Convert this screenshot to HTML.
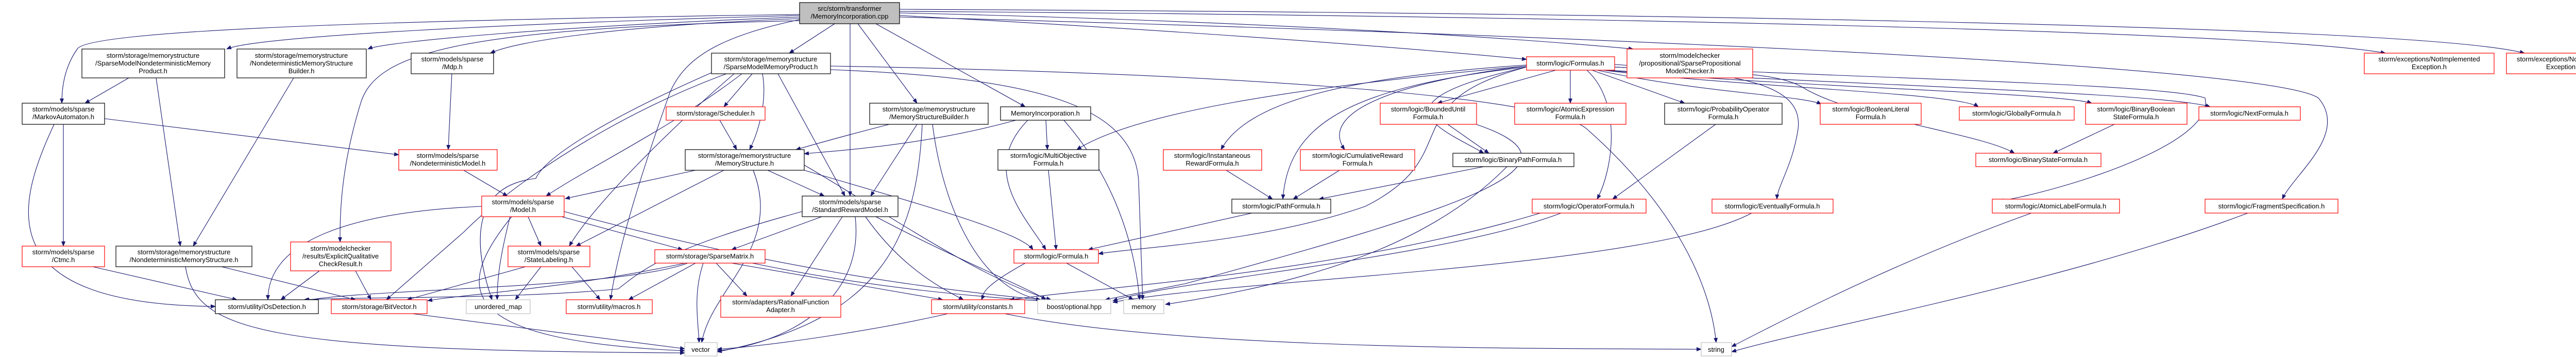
<!DOCTYPE html>
<html><head><meta charset="utf-8"><style>
html,body{margin:0;padding:0;background:#fff;}
svg{display:block;}
text{font-family:"Liberation Sans",sans-serif;font-size:13px;fill:#000;text-anchor:middle;}
.e{fill:none;stroke:#191970;stroke-width:1.1;marker-end:url(#a);}
.k{fill:#fff;stroke:#000;stroke-width:1.2;}
.r{fill:#fff;stroke:#ff0000;stroke-width:1.2;}
.g{fill:#fff;stroke:#bfbfbf;stroke-width:1.2;}
</style></head><body>
<svg width="5089" height="692" viewBox="0 0 5089 692" xmlns="http://www.w3.org/2000/svg">
<defs><marker id="a" markerWidth="10" markerHeight="8" refX="9" refY="4" orient="auto" markerUnits="userSpaceOnUse"><path d="M0,0 L10,4 L0,8 z" fill="#191970"/></marker></defs>
<g>
<path class="e" d="M1552,30 C1000,45 500,70 440,95"/>
<path class="e" d="M1552,33 C1100,50 750,80 714,95"/>
<path class="e" d="M1552,28 C700,40 170,60 150,95 C125,130 120,170 120,200"/>
<path class="e" d="M1552,36 C1200,50 1000,80 952,103"/>
<path class="e" d="M1552,40 C900,55 730,100 700,200 C660,330 660,420 660,469"/>
<path class="e" d="M1552,38 C1400,70 1330,110 1300,180 C1240,350 1200,480 1185,581"/>
<path class="e" d="M1620,46 L1532,103"/>
<path class="e" d="M1650,46 L1650,380"/>
<path class="e" d="M1665,46 L1780,200"/>
<path class="e" d="M1700,46 L1990,207"/>
<path class="e" d="M1746,30 C2300,60 2700,90 2963,115"/>
<path class="e" d="M1746,25 C2400,40 2900,70 3170,95"/>
<path class="e" d="M1746,22 C3000,30 4400,60 4630,103"/>
<path class="e" d="M1746,18 C3200,25 4700,50 4900,103"/>
<path class="e" d="M1746,33 C2800,60 4400,120 4500,190 C4560,260 4450,340 4430,386"/>
<path class="e" d="M1612,128 C2300,140 3000,180 3080,250 C3250,400 3320,550 3331,664"/>
<path class="e" d="M1612,135 C2000,150 2200,200 2210,350 L2218,581"/>
<path class="e" d="M3020,136 L2790,200"/>
<path class="e" d="M3048,136 L3048,200"/>
<path class="e" d="M3090,136 L3270,200"/>
<path class="e" d="M3100,136 C3300,180 3500,185 3535,202"/>
<path class="e" d="M3110,136 C3400,170 3800,180 3840,207"/>
<path class="e" d="M3115,136 C3500,170 4000,180 4060,200"/>
<path class="e" d="M3120,136 C3600,165 4200,180 4290,207"/>
<path class="e" d="M3134,130 C3350,140 3450,140 3500,170 C3600,230 3850,260 3910,297"/>
<path class="e" d="M3134,125 C3500,150 4200,160 4280,190 C4300,280 4000,370 3880,390"/>
<path class="e" d="M3134,130 C3400,140 3500,170 3490,250 C3480,320 3450,360 3449,386"/>
<path class="e" d="M3080,136 C3150,200 3130,330 3100,386"/>
<path class="e" d="M2963,128 C2500,170 2200,220 2090,290"/>
<path class="e" d="M2963,126 C2600,150 2420,200 2370,290"/>
<path class="e" d="M2963,128 C2700,160 2560,220 2610,290"/>
<path class="e" d="M2963,130 C2600,170 2500,250 2490,386"/>
<path class="e" d="M2963,130 C2650,200 2800,250 2880,297"/>
<path class="e" d="M2963,130 C2700,200 2850,300 2650,400 C2450,470 2200,480 2132,492"/>
<path class="e" d="M2810,241 L2890,297"/>
<path class="e" d="M2865,241 C3100,320 2850,400 2300,550 L2145,581"/>
<path class="e" d="M2880,323 L2560,386"/>
<path class="e" d="M2925,323 C2800,450 2600,540 2262,590"/>
<path class="e" d="M2380,330 L2470,386"/>
<path class="e" d="M2600,330 L2510,386"/>
<path class="e" d="M2430,413 L2112,484"/>
<path class="e" d="M2035,330 L2050,484"/>
<path class="e" d="M2030,233 L2033,290"/>
<path class="e" d="M1972,233 C1800,280 1650,290 1561,298"/>
<path class="e" d="M1995,233 C1900,330 1990,420 2030,484"/>
<path class="e" d="M2065,233 C2150,330 2200,450 2212,581"/>
<path class="e" d="M3330,241 L3130,386"/>
<path class="e" d="M3030,413 C2800,500 2300,540 2160,583"/>
<path class="e" d="M2990,413 C2600,530 2100,560 1960,581"/>
<path class="e" d="M3400,413 C3200,520 2400,540 2160,586"/>
<path class="e" d="M4104,241 L3985,297"/>
<path class="e" d="M3943,413 C3700,500 3500,600 3361,672"/>
<path class="e" d="M4363,413 C4000,550 3500,640 3361,682"/>
<path class="e" d="M1950,608 C2300,680 3000,675 3302,677"/>
<path class="e" d="M1840,608 C1700,640 1500,670 1392,677"/>
<path class="e" d="M1990,510 C1900,560 1910,570 1905,581"/>
<path class="e" d="M2070,510 L2200,581"/>
<path class="e" d="M1750,235 C1650,260 1580,280 1545,290"/>
<path class="e" d="M1780,241 L1690,380"/>
<path class="e" d="M1790,241 C1780,450 1720,620 1392,682"/>
<path class="e" d="M1810,241 C1830,400 1900,560 2020,581"/>
<path class="e" d="M1460,143 L1405,207"/>
<path class="e" d="M1480,143 C1490,200 1470,260 1455,290"/>
<path class="e" d="M1510,143 L1640,380"/>
<path class="e" d="M1440,143 C1300,250 1150,320 1060,380"/>
<path class="e" d="M1425,143 C1300,250 1150,400 1105,477"/>
<path class="e" d="M1410,143 C1200,220 1000,350 900,450 L750,581"/>
<path class="e" d="M1381,141 C1200,220 1060,300 1040,346 C910,360 920,480 955,581"/>
<path class="e" d="M1397,233 L1430,290"/>
<path class="e" d="M1350,330 L1097,385"/>
<path class="e" d="M1405,330 L1118,477"/>
<path class="e" d="M1490,330 L1600,380"/>
<path class="e" d="M1462,330 C1520,480 1380,560 1362,664"/>
<path class="e" d="M1561,330 C1800,400 1980,450 2005,484"/>
<path class="e" d="M1561,320 C1700,400 1900,540 2040,581"/>
<path class="e" d="M935,400 C700,410 520,460 520,581"/>
<path class="e" d="M1025,420 L1050,477"/>
<path class="e" d="M1090,420 L1325,484"/>
<path class="e" d="M990,420 C970,500 965,540 965,581"/>
<path class="e" d="M993,420 C880,560 880,660 1329,680"/>
<path class="e" d="M1095,410 C1500,520 1800,560 2040,583"/>
<path class="e" d="M1595,420 L1420,484"/>
<path class="e" d="M1557,410 C1300,480 1250,520 1200,560 C1000,580 700,575 590,581"/>
<path class="e" d="M1635,420 L1535,574"/>
<path class="e" d="M1660,420 C1680,600 1500,670 1392,680"/>
<path class="e" d="M1680,420 C1750,520 1830,560 1870,581"/>
<path class="e" d="M1700,420 C1850,500 2000,560 2030,581"/>
<path class="e" d="M900,330 L985,380"/>
<path class="e" d="M877,143 L870,290"/>
<path class="e" d="M203,230 L774,300"/>
<path class="e" d="M123,241 L123,477"/>
<path class="e" d="M105,241 C30,400 -20,590 418,594"/>
<path class="e" d="M250,151 L165,200"/>
<path class="e" d="M303,151 L350,477"/>
<path class="e" d="M570,151 L375,477"/>
<path class="e" d="M430,517 L690,581"/>
<path class="e" d="M360,517 C380,640 500,680 1329,684"/>
<path class="e" d="M180,517 L460,581"/>
<path class="e" d="M620,525 L545,581"/>
<path class="e" d="M690,525 L720,581"/>
<path class="e" d="M1020,517 L790,581"/>
<path class="e" d="M1050,517 L1000,581"/>
<path class="e" d="M1110,517 L1165,581"/>
<path class="e" d="M1335,510 C1200,560 700,560 592,583"/>
<path class="e" d="M1330,510 C1100,560 900,570 830,583"/>
<path class="e" d="M1350,510 L1220,581"/>
<path class="e" d="M1365,510 C1345,570 1355,620 1357,664"/>
<path class="e" d="M1390,510 L1450,574"/>
<path class="e" d="M1420,510 L1830,581"/>
<path class="e" d="M1460,510 C1700,560 1900,575 2030,584"/>
<path class="e" d="M800,608 L1329,676"/>
</g>
<g>
<rect x="1552" y="5" width="194" height="41" fill="#bfbfbf" stroke="#000" stroke-width="1.2"/>
<text x="1649" y="21">src/storm/transformer</text><text x="1649" y="36">/MemoryIncorporation.cpp</text>

<rect class="k" x="159" y="95" width="277" height="56"/>
<text x="297" y="112">storm/storage/memorystructure</text><text x="297" y="127">/SparseModelNondeterministicMemory</text><text x="297" y="142">Product.h</text>
<rect class="k" x="460" y="95" width="251" height="56"/>
<text x="585" y="112">storm/storage/memorystructure</text><text x="585" y="127">/NondeterministicMemoryStructure</text><text x="585" y="142">Builder.h</text>
<rect class="k" x="798" y="103" width="160" height="40"/>
<text x="878" y="119">storm/models/sparse</text><text x="878" y="134">/Mdp.h</text>
<rect class="k" x="1381" y="103" width="231" height="40"/>
<text x="1496" y="119">storm/storage/memorystructure</text><text x="1496" y="134">/SparseModelMemoryProduct.h</text>
<rect class="k" x="43" y="200" width="160" height="41"/>
<text x="123" y="216">storm/models/sparse</text><text x="123" y="231">/MarkovAutomaton.h</text>
<rect class="r" x="1293" y="207" width="192" height="26"/>
<text x="1389" y="224">storm/storage/Scheduler.h</text>
<rect class="r" x="774" y="290" width="191" height="40"/>
<text x="869" y="306">storm/models/sparse</text><text x="869" y="321">/NondeterministicModel.h</text>
<rect class="k" x="1330" y="290" width="231" height="40"/>
<text x="1445" y="306">storm/storage/memorystructure</text><text x="1445" y="321">/MemoryStructure.h</text>
<rect class="r" x="935" y="380" width="160" height="40"/>
<text x="1015" y="396">storm/models/sparse</text><text x="1015" y="411">/Model.h</text>
<rect class="k" x="1557" y="380" width="186" height="40"/>
<text x="1650" y="396">storm/models/sparse</text><text x="1650" y="411">/StandardRewardModel.h</text>
<rect class="r" x="43" y="477" width="160" height="40"/>
<text x="123" y="493">storm/models/sparse</text><text x="123" y="508">/Ctmc.h</text>
<rect class="k" x="225" y="477" width="264" height="40"/>
<text x="357" y="493">storm/storage/memorystructure</text><text x="357" y="508">/NondeterministicMemoryStructure.h</text>
<rect class="r" x="564" y="469" width="195" height="56"/>
<text x="661" y="486">storm/modelchecker</text><text x="661" y="501">/results/ExplicitQualitative</text><text x="661" y="516">CheckResult.h</text>
<rect class="r" x="986" y="477" width="159" height="40"/>
<text x="1065" y="493">storm/models/sparse</text><text x="1065" y="508">/StateLabeling.h</text>
<rect class="r" x="1271" y="484" width="214" height="26"/>
<text x="1378" y="501">storm/storage/SparseMatrix.h</text>
<rect class="k" x="418" y="581" width="200" height="27"/>
<text x="518" y="599">storm/utility/OsDetection.h</text>
<rect class="r" x="643" y="581" width="186" height="27"/>
<text x="736" y="599">storm/storage/BitVector.h</text>
<rect class="g" x="905" y="581" width="124" height="27"/>
<text x="967" y="599">unordered_map</text>
<rect class="r" x="1099" y="581" width="167" height="27"/>
<text x="1182" y="599">storm/utility/macros.h</text>
<rect class="r" x="1399" y="574" width="233" height="41"/>
<text x="1515" y="590">storm/adapters/RationalFunction</text><text x="1515" y="605">Adapter.h</text>
<rect class="g" x="1329" y="664" width="63" height="26"/>
<text x="1360" y="682">vector</text>
<rect class="k" x="1688" y="200" width="230" height="41"/>
<text x="1803" y="216">storm/storage/memorystructure</text><text x="1803" y="231">/MemoryStructureBuilder.h</text>
<rect class="k" x="1942" y="207" width="175" height="26"/>
<text x="2029" y="224">MemoryIncorporation.h</text>
<rect class="r" x="2963" y="110" width="171" height="26"/>
<text x="3048" y="127">storm/logic/Formulas.h</text>
<rect class="r" x="3158" y="95" width="244" height="56"/>
<text x="3280" y="112">storm/modelchecker</text><text x="3280" y="127">/propositional/SparsePropositional</text><text x="3280" y="142">ModelChecker.h</text>
<rect class="k" x="1937" y="290" width="196" height="40"/>
<text x="2035" y="306">storm/logic/MultiObjective</text><text x="2035" y="321">Formula.h</text>
<rect class="r" x="2258" y="290" width="191" height="40"/>
<text x="2353" y="306">storm/logic/Instantaneous</text><text x="2353" y="321">RewardFormula.h</text>
<rect class="r" x="2524" y="290" width="222" height="40"/>
<text x="2635" y="306">storm/logic/CumulativeReward</text><text x="2635" y="321">Formula.h</text>
<rect class="k" x="2820" y="297" width="235" height="26"/>
<text x="2937" y="314">storm/logic/BinaryPathFormula.h</text>
<rect class="r" x="2679" y="200" width="187" height="41"/>
<text x="2772" y="216">storm/logic/BoundedUntil</text><text x="2772" y="231">Formula.h</text>
<rect class="r" x="2940" y="200" width="216" height="41"/>
<text x="3048" y="216">storm/logic/AtomicExpression</text><text x="3048" y="231">Formula.h</text>
<rect class="k" x="3231" y="200" width="228" height="41"/>
<text x="3345" y="216">storm/logic/ProbabilityOperator</text><text x="3345" y="231">Formula.h</text>
<rect class="k" x="2391" y="386" width="192" height="27"/>
<text x="2487" y="404">storm/logic/PathFormula.h</text>
<rect class="r" x="2974" y="386" width="221" height="27"/>
<text x="3084" y="404">storm/logic/OperatorFormula.h</text>
<rect class="r" x="3323" y="386" width="235" height="27"/>
<text x="3440" y="404">storm/logic/EventuallyFormula.h</text>
<rect class="r" x="1968" y="484" width="164" height="26"/>
<text x="2050" y="501">storm/logic/Formula.h</text>
<rect class="r" x="1808" y="581" width="181" height="27"/>
<text x="1898" y="599">storm/utility/constants.h</text>
<rect class="g" x="2014" y="581" width="142" height="27"/>
<text x="2085" y="599">boost/optional.hpp</text>
<rect class="g" x="2181" y="581" width="78" height="27"/>
<text x="2220" y="599">memory</text>
<rect class="g" x="3302" y="664" width="59" height="26"/>
<text x="3331" y="682">string</text>
<rect class="r" x="3533" y="200" width="196" height="41"/>
<text x="3631" y="216">storm/logic/BooleanLiteral</text><text x="3631" y="231">Formula.h</text>
<rect class="r" x="3803" y="207" width="223" height="26"/>
<text x="3914" y="224">storm/logic/GloballyFormula.h</text>
<rect class="r" x="4048" y="200" width="197" height="41"/>
<text x="4146" y="216">storm/logic/BinaryBoolean</text><text x="4146" y="231">StateFormula.h</text>
<rect class="r" x="4268" y="207" width="197" height="26"/>
<text x="4366" y="224">storm/logic/NextFormula.h</text>
<rect class="r" x="3835" y="297" width="243" height="26"/>
<text x="3956" y="314">storm/logic/BinaryStateFormula.h</text>
<rect class="r" x="3867" y="386" width="247" height="27"/>
<text x="3990" y="404">storm/logic/AtomicLabelFormula.h</text>
<rect class="r" x="4280" y="386" width="258" height="27"/>
<text x="4409" y="404">storm/logic/FragmentSpecification.h</text>
<rect class="r" x="4589" y="103" width="252" height="40"/>
<text x="4715" y="119">storm/exceptions/NotImplemented</text><text x="4715" y="134">Exception.h</text>
<rect class="r" x="4865" y="103" width="222" height="40"/>
<text x="4976" y="119">storm/exceptions/NotSupported</text><text x="4976" y="134">Exception.h</text>
</g>
</svg>
</body></html>
